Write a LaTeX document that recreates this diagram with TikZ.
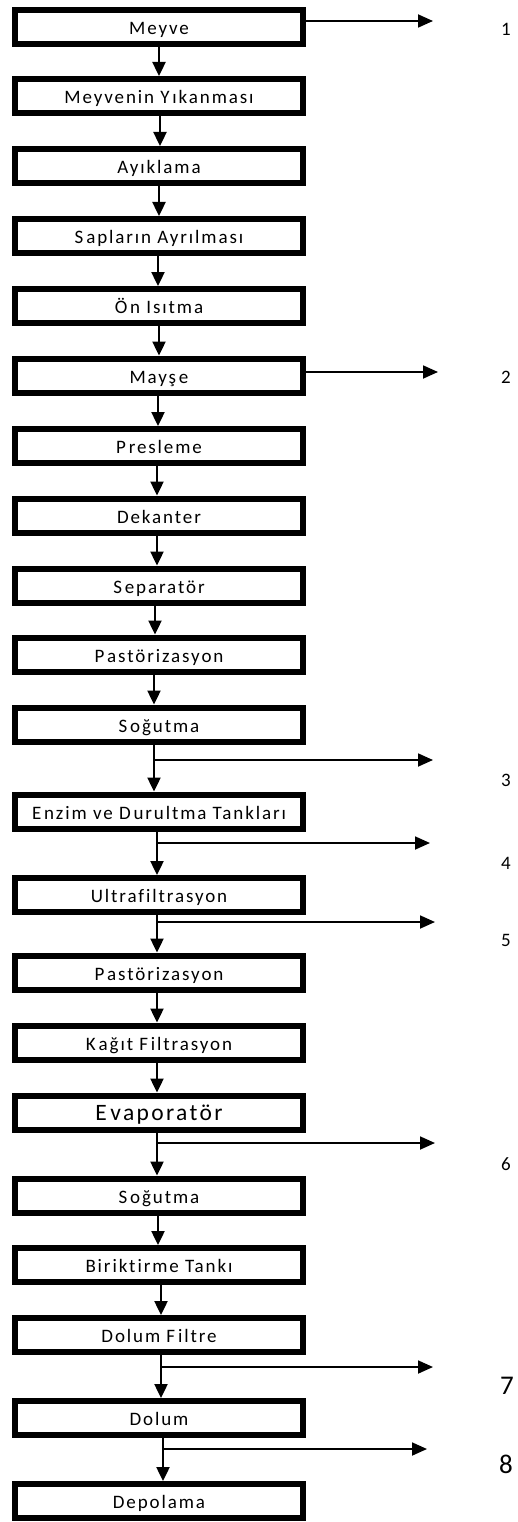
\documentclass[tikz,border=0pt]{standalone}
\usepackage{fontspec}
\setmainfont{Carlito}[LetterSpace=10,Ligatures={NoCommon}]
\usetikzlibrary{arrows.meta}
% small extra gap after some capitals
\newcommand{\cg}{\kern0.15em}

\begin{document}
\begin{tikzpicture}[x=1pt,y=-1pt,
  stage/.style={draw, line width=6pt, minimum width=288pt, minimum height=34pt,
    inner sep=0pt, font=\fontsize{19}{22}\selectfont, text height=15.5pt, text depth=0.5pt},
  bigstage/.style={stage, font=\fontsize{23.5}{26}\selectfont, text height=16pt, text depth=0.8pt},
  flow/.style={line width=2.4pt, -{Triangle[length=14pt,width=13pt]}},
  side/.style={line width=1.8pt, -{Triangle[length=15pt,width=13pt]}},
  tag/.style={font=\fontsize{19}{22}\selectfont, inner sep=0pt},
  bigtag/.style={font=\fontsize{27}{30}\selectfont, inner sep=0pt}]

\useasboundingbox (0,0) rectangle (518,1522);

% process stages
\node[stage] (s1)  at (159,27)     {Meyve};
\node[stage] (s2)  at (159,96)     {Meyvenin Y\cg ıkanması};
\node[stage] (s3)  at (159,166)    {Ayıklama};
\node[stage] (s4)  at (159,236)    {S\cg apların Ayrılması};
\node[stage] (s5)  at (159,306)    {Ö\cg n Isıtma};
\node[stage] (s6)  at (159,375.5)  {Mayş\cg e};
\node[stage] (s7)  at (159,446)    {P\cg resleme};
\node[stage] (s8)  at (159,515.5)  {Dekanter};
\node[stage] (s9)  at (159,585.5)  {S\cg eparatör};
\node[stage] (s10) at (159,654.5)  {P\cg astörizasyon};
\node[stage] (s11) at (159,724.5)  {S\cg oğutma};
\node[stage] (s12) at (159,811.5)  {E\cg nzim ve D\cg urultma Tankları};
\node[stage] (s13) at (159,895)    {Ultrafiltrasyon};
\node[stage] (s14) at (159,972.5)  {P\cg astörizasyon};
\node[stage] (s15) at (159,1042.5) {K\cg ağıt F\cg iltrasyon};
\node[bigstage] (s16) at (159,1112.5) {E\cg vaporatör};
\node[stage] (s17) at (159,1195.5) {S\cg oğutma};
\node[stage] (s18) at (159,1265)   {Biriktirme Tankı};
\node[stage] (s19) at (159,1335)   {Dolum F\cg iltre};
\node[stage] (s20) at (159,1418)   {Dolum};
\node[stage] (s21) at (159,1501)   {Depolama};

% main flow
\foreach \a/\b/\dx in {s1/s2/0pt, s2/s3/1pt, s3/s4/0pt, s4/s5/-1pt, s5/s6/0pt,
    s6/s7/-1pt, s7/s8/-2pt, s8/s9/-2pt, s9/s10/-4pt, s10/s11/-5pt, s11/s12/-5pt,
    s12/s13/-2pt, s13/s14/-2pt, s14/s15/-2pt, s15/s16/-2pt, s16/s17/-2pt,
    s17/s18/-1pt, s18/s19/2pt, s19/s20/2pt, s20/s21/4pt}
  \draw[flow] ([xshift=\dx]\a.south) -- ([xshift=\dx]\b.north);

% side streams
\coordinate (e1) at (433,21);
\coordinate (e2) at (438,372);
\coordinate (b3) at (154,760);   \coordinate (e3) at (433,760);
\coordinate (b4) at (157,843);   \coordinate (e4) at (430,843);
\coordinate (b5) at (157,922);   \coordinate (e5) at (435,922);
\coordinate (b6) at (157,1143);  \coordinate (e6) at (435,1143);
\coordinate (b7) at (161,1367);  \coordinate (e7) at (433,1367);
\coordinate (b8) at (163,1449);  \coordinate (e8) at (427,1449);

\draw[side] ([yshift=6pt]s1.east) -- (e1);
\draw[side] ([yshift=3.5pt]s6.east) -- (e2);
\foreach \i in {3,...,8}
  \draw[side] (b\i) -- (e\i);

% stream numbers
\node[tag] (l1) at (506,29)   {1};
\node[tag] (l2) at (506,377)  {2};
\node[tag] (l3) at (506,780)  {3};
\node[tag] (l4) at (506,863)  {4};
\node[tag] (l5) at (506,940)  {5};
\node[tag] (l6) at (506,1164) {6};
\node[bigtag] (l7) at (507,1386) {7};
\node[bigtag] (l8) at (506,1464) {8};
\end{tikzpicture}
\end{document}
